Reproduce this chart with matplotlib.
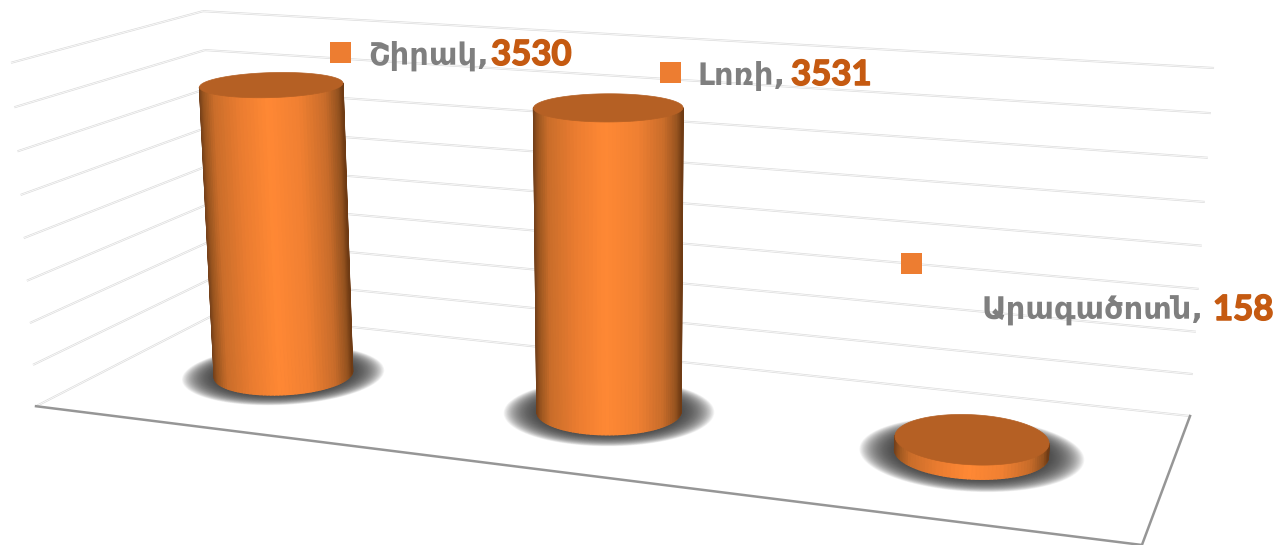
import numpy as np
import matplotlib
matplotlib.use("Agg")
import matplotlib.pyplot as plt
import matplotlib.patheffects as pe
from matplotlib.collections import PolyCollection
from matplotlib.colors import LinearSegmentedColormap
from matplotlib.patches import Polygon, Rectangle

# data
categories = ["Շիրակ", "Լոռի", "Արագածոտն"]
values = [3530, 3531, 158]
grid_values = [0, 500, 1000, 1500, 2000, 2500, 3000, 3500, 4000]

GRAY_TEXT = "#7f7f7f"
VALUE_TEXT = "#c55a11"
SQUARE = "#ed7d31"
TOP_FACE = "#b56024"

side_cmap = LinearSegmentedColormap.from_list("side", [
    (0.00, "#74401a"), (0.03, "#9a551f"), (0.10, "#c96d2a"), (0.28, "#ea7c30"),
    (0.48, "#ff8834"), (0.70, "#f08032"), (0.88, "#c86c2a"), (0.97, "#94521f"),
    (1.00, "#6f3b14"),
])

# 3D box (category, value, depth) -> pixel calibration, read from the box corners
box_3d = np.array([[0, 0, 0], [3, 0, 0], [0, 0, 1], [3, 0, 1],
                   [0, 4000, 1], [3, 4000, 1], [0, 4000, 0]], dtype=float)
box_px = np.array([[36, 406], [1142, 545], [218, 313], [1190, 416],
                   [203, 11], [1214, 68], [11, 63]], dtype=float)


def fit_camera(pts, px):
    scale = np.array([1.0, 1 / 4000.0, 1.0])
    rows = []
    for p, (u, v) in zip(pts * scale, px):
        X = np.append(p, 1.0)
        rows.append(np.concatenate([X, np.zeros(4), -u * X]))
        rows.append(np.concatenate([np.zeros(4), X, -v * X]))
    return np.linalg.svd(np.array(rows))[2][-1].reshape(3, 4), scale


camera, cam_scale = fit_camera(box_3d, box_px)


def project(x, v, z):
    x, v, z = np.broadcast_arrays(x, v, z)
    X = np.stack([x * cam_scale[0], v * cam_scale[1], z * cam_scale[2], np.ones(x.shape)])
    h = camera @ X.reshape(4, -1)
    return np.column_stack([h[0] / h[2], h[1] / h[2]])


fig = plt.figure(figsize=(12.77, 5.45), dpi=100)
ax = fig.add_axes([0, 0, 1, 1])
ax.set_xlim(0, 1277)
ax.set_ylim(545, 0)
ax.axis("off")


def double_line(a, b):
    p = np.vstack([a, b])
    ax.plot(p[:, 0], p[:, 1], color="#dcdcdc", lw=1.5, zorder=1, solid_capstyle="butt")
    ax.plot(p[:, 0], p[:, 1], color="white", lw=0.5, zorder=1.1, solid_capstyle="butt")


# walls
for g in grid_values:
    double_line(project(0, g, 0), project(0, g, 1))
    double_line(project(0, g, 1), project(3, g, 1))

# floor edges
edge = np.vstack([project(0, 0, 0), project(3, 0, 0), project(3, 0, 1)])
ax.plot(edge[:, 0], edge[:, 1], color="#969696", lw=1.8, zorder=1.5, solid_joinstyle="miter")

# cylinders
RX, RZ = 0.197, 0.20
theta = np.linspace(0, 2 * np.pi, 121)[:-1]
theta_fine = np.linspace(0, 2 * np.pi, 361)[:-1]

for i, val in enumerate(values):
    xc, zc = i + 0.5, 0.5
    cx, cz = np.cos(theta), np.sin(theta)

    # soft shadow
    for s in np.linspace(1.46, 1.02, 40):
        ring = project(xc + s * RX * np.cos(theta_fine), 0, zc + s * RZ * np.sin(theta_fine))
        ax.add_patch(Polygon(ring, closed=True, fc="#404040", ec="none", alpha=0.05, zorder=2))

    base = project(xc + RX * cx, 0, zc + RZ * cz)
    top = project(xc + RX * cx, val, zc + RZ * cz)

    # side strips over the front half, between the leftmost and rightmost points
    il, ir = np.argmin(base[:, 0]), np.argmax(base[:, 0])
    paths = []
    for step in (-1, 1):
        idx = [il]
        while idx[-1] != ir:
            idx.append((idx[-1] + step) % len(theta))
        paths.append(idx)
    idx = max(paths, key=lambda p: base[p, 1].mean())
    polys, cols = [], []
    x_lo, x_hi = base[il, 0], base[ir, 0]
    for a, b in zip(idx[:-1], idx[1:]):
        polys.append([base[a], base[b], top[b], top[a]])
        cols.append(side_cmap(((base[a, 0] + base[b, 0]) / 2 - x_lo) / (x_hi - x_lo)))
    ax.add_collection(PolyCollection(polys, facecolors=cols, edgecolors=cols, linewidths=0.9, zorder=3))

    ax.add_patch(Polygon(top, closed=True, fc=TOP_FACE, ec=TOP_FACE, lw=0.5, zorder=4))

# data labels: square, name, value
label_pos = [(330, 42, 368, 491, 65), (660, 62, 698, 791, 85), (901, 253, 981, 1213, 320)]
for (sx, sy, nx, vx, by), name, val in zip(label_pos, categories, values):
    ax.add_patch(Rectangle((sx, sy), 21, 21, fc=SQUARE, ec="none", zorder=5))
    ax.text(nx, by, name + ",", color=GRAY_TEXT, fontsize=22, fontweight="bold",
            family="DejaVu Sans", va="baseline", ha="left", zorder=6)
    ax.text(vx, by, str(val), color=VALUE_TEXT, fontsize=25, fontweight="bold",
            family="Lato", va="baseline", ha="left", zorder=6,
            path_effects=[pe.withStroke(linewidth=1.1, foreground=VALUE_TEXT)])

fig.savefig("out.png", dpi=100, facecolor="white")
